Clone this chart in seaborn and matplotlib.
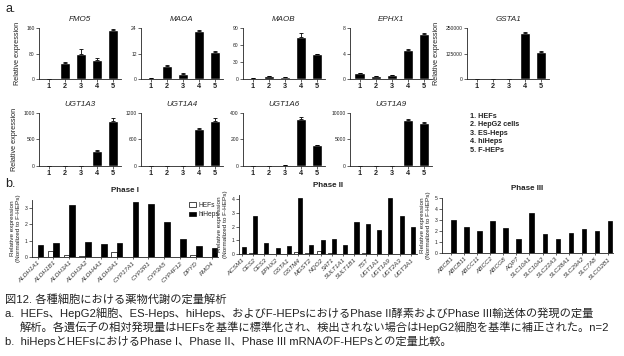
import matplotlib
matplotlib.use('Agg')
import matplotlib.pyplot as plt
import seaborn as sns
import pandas as pd

sns.set_theme(style='ticks')
plt.rcParams['font.family'] = ['Liberation Sans', 'Noto Sans CJK JP', 'DejaVu Sans']

# ---- panel a: relative expression, groups 1-5 ----
groups = ['1', '2', '3', '4', '5']
fmo5 = [0.5, 50, 80, 60, 153]
fmo5_err = [0, 2, 14, 6, 3]
maoa = [0.6, 6.2, 2.5, 22.6, 12.9]
maoa_err = [0, 0.2, 0.2, 0.3, 0.4]
maob = [1, 5.3, 3.5, 74.5, 44]
maob_err = [0, 0.4, 0.3, 6, 1]
ephx1 = [0.9, 0.45, 0.65, 4.6, 7.1]
ephx1_err = [0, 0, 0, 0.15, 0.1]
gsta1 = [0, 0, 0, 226000, 134000]
gsta1_err = [0, 0, 0, 2000, 4000]
ugt1a3 = [0, 0, 0, 280, 840]
ugt1a3_err = [0, 0, 0, 25, 60]
ugt1a4 = [0, 0, 0, 840, 1030]
ugt1a4_err = [0, 0, 0, 15, 50]
ugt1a6 = [0, 0, 5, 355, 155]
ugt1a6_err = [0, 0, 2, 15, 3]
ugt1a9 = [0, 0, 0, 8700, 8150]
ugt1a9_err = [0, 0, 0, 150, 150]
legend_lines = ['1. HEFs', '2. HepG2 cells', '3. ES-Heps', '4. hiHeps', '5. F-HEPs']

# ---- panel b: normalized to F-HEPs ----
phase1_genes = ['ALDH1A1', 'ALDH1B1', 'ALDH3A1', 'ALDH3A2', 'ALDH4A1', 'ALDH9A1',
                'CYP17A1', 'CYP2R1', 'CYP3A5', 'CYP4F12', 'DPYD', 'FMO4']
phase1_hefs = [0.02, 0.35, 0.1, 0.05, 0.03, 0.3, 0, 0, 0, 0, 0.15, 0.03]
phase1_hiheps = [0.72, 0.88, 3.2, 0.9, 0.82, 0.84, 3.37, 3.25, 2.15, 1.1, 0.7, 0.57]

phase2_genes = ['ACSM1', 'CES2', 'CES3', 'EPHX2', 'GSTA1', 'GSTM4', 'MGST2', 'NQO2',
                'SAT1', 'SULT1A1', 'SULT1B1', 'TST', 'UGT1A1', 'UGT1A9', 'UGT2A3', 'UGT3A1']
phase2_hefs = [0, 0.05, 0, 0, 0, 0.15, 0.05, 0.25, 0.1, 0, 0, 0.05, 0, 0, 0, 0]
phase2_hiheps = [0.53, 2.8, 0.8, 0.45, 0.6, 4.1, 0.63, 1.0, 1.1, 0.65, 2.35, 2.2,
                 1.75, 4.1, 2.8, 2.0]

phase3_genes = ['ABCB1', 'ABCB11', 'ABCC11', 'ABCC2', 'ABCG8', 'AQP7', 'SLC10A1',
                'SLC10A2', 'SLC22A3', 'SLC28A1', 'SLC29A2', 'SLC7A8', 'SLCO2B1']
phase3_hefs = [0, 0, 0, 0, 0, 0, 0, 0, 0.03, 0, 0, 0, 0]
phase3_hiheps = [3.0, 2.4, 2.0, 2.9, 2.3, 1.3, 3.6, 1.7, 1.3, 1.8, 2.2, 2.0, 2.9]

W, H = 624, 356
fig = plt.figure(figsize=(W / 100, H / 100), dpi=100)


def box(l, t, r, b):
    return [l / W, 1 - b / H, (r - l) / W, (b - t) / H]


def style(ax, fs=4):
    sns.despine(ax=ax)
    for s in ['left', 'bottom']:
        ax.spines[s].set_linewidth(0.6)
        ax.spines[s].set_color('#222222')
    ax.tick_params(axis='both', length=2, width=0.5, pad=1, labelsize=fs, colors='#222222')
    ax.set_xlabel('')
    ax.set_ylabel('')
    ax.set_facecolor('none')


def panel_a(x0, top, bottom, name, vals, errs, ticks, ylabel=False):
    ax = fig.add_axes(box(x0, top, x0 + 82, bottom))
    sns.barplot(x=groups, y=vals, color='black', width=0.65, ax=ax)
    ax.errorbar(x=range(5), y=vals, yerr=[[0] * 5, errs], fmt='none',
                ecolor='black', elinewidth=0.6, capsize=1.5, capthick=0.6)
    style(ax)
    ax.set_ylim(0, ticks[-1])
    ax.set_xlim(-0.6, 4.5)
    ax.set_yticks(ticks)
    ax.set_yticklabels([str(t) for t in ticks], fontsize=3.6)
    for lab in ax.get_xticklabels():
        lab.set_fontsize(5.2)
        lab.set_fontweight('bold')
    ax.set_title(name, fontsize=5.8, style='italic', pad=5, color='#222222')
    if ylabel:
        ax.set_ylabel('Relative expression', fontsize=5.2, labelpad=4, color='#222222')
    return ax


# row 1
panel_a(39, 28, 79, 'FMO5', fmo5, fmo5_err, [0, 80, 160], ylabel=True)
panel_a(141, 28, 79, 'MAOA', maoa, maoa_err, [0, 12, 24])
panel_a(243, 28, 79, 'MAOB', maob, maob_err, [0, 30, 60, 90])
panel_a(350, 28, 79, 'EPHX1', ephx1, ephx1_err, [0, 4, 8])
panel_a(467, 28, 79, 'GSTA1', gsta1, gsta1_err, [0, 125000, 250000], ylabel=True)
# row 2
panel_a(39, 113, 166, 'UGT1A3', ugt1a3, ugt1a3_err, [0, 500, 1000], ylabel=True)
panel_a(141, 113, 166, 'UGT1A4', ugt1a4, ugt1a4_err, [0, 600, 1200])
panel_a(243, 113, 166, 'UGT1A6', ugt1a6, ugt1a6_err, [0, 200, 400])
panel_a(350, 113, 166, 'UGT1A9', ugt1a9, ugt1a9_err, [0, 5000, 10000])

fig.text(470 / W, 1 - 113 / H, '\n'.join(legend_lines), fontsize=5.2,
         fontweight='bold', va='top', ha='left', linespacing=1.3, color='#222222')
fig.text(5 / W, 1 - 9 / H, 'a.', fontsize=9, va='center', ha='left', color='#222222')
fig.text(5 / W, 1 - 184 / H, 'b.', fontsize=9, va='center', ha='left', color='#222222')


def panel_b(l, t, r, b, title, genes, hefs, hiheps, ticks, ylim, xlim, legend=False):
    ax = fig.add_axes(box(l, t, r, b))
    df = pd.DataFrame({
        'gene': genes * 2,
        'value': hefs + hiheps,
        'cell': ['HEFs'] * len(genes) + ['hiHeps'] * len(genes),
    })
    sns.barplot(data=df, x='gene', y='value', hue='cell',
                palette={'HEFs': 'white', 'hiHeps': 'black'},
                edgecolor='black', linewidth=0.5, width=0.72, ax=ax, legend=legend)
    style(ax)
    ax.set_ylim(*ylim)
    ax.set_xlim(*xlim)
    ax.set_yticks(ticks)
    ax.set_yticklabels([str(t) for t in ticks], fontsize=3.6)
    ax.tick_params(axis='x', length=1.5)
    for lab in ax.get_xticklabels():
        lab.set_rotation(45)
        lab.set_ha('right')
        lab.set_rotation_mode('anchor')
        lab.set_fontsize(4.6)
        lab.set_style('italic')
        lab.set_color('#333333')
    ax.set_title(title, fontsize=5.8, fontweight='bold', pad=6, color='#222222')
    ax.set_ylabel('Relative expression\n(Normalized to F-HEPs)', fontsize=4.6,
                  labelpad=3, color='#222222', linespacing=1.1)
    if legend:
        ax.legend(loc='upper right', bbox_to_anchor=(1.02, 1.02), frameon=False,
                  fontsize=4.8, handlelength=1.0, handleheight=0.7,
                  handletextpad=0.4, labelspacing=0.4, borderaxespad=0)
    return ax


panel_b(32, 200, 218, 257, 'Phase I', phase1_genes, phase1_hefs, phase1_hiheps,
        [0, 1, 2, 3], (0, 3.5), (-0.35, 11.4), legend=True)
panel_b(239, 195, 417, 254, 'Phase II', phase2_genes, phase2_hefs, phase2_hiheps,
        [0, 1, 2, 3, 4], (0, 4.3), (-0.25, 15.55))
panel_b(442, 198, 613, 253, 'Phase III', phase3_genes, phase3_hefs, phase3_hiheps,
        [0, 1, 2, 3, 4, 5], (0, 5), (-0.7, 12.4))

caption = [
    (5, 299, '図12. 各種細胞における薬物代謝の定量解析'),
    (5, 313, 'a.  HEFs、HepG2細胞、ES-Heps、hiHeps、およびF-HEPsにおけるPhase II酵素およびPhase III輸送体の発現の定量'),
    (20, 327, '解析。各遺伝子の相対発現量はHEFsを基準に標準化され、検出されない場合はHepG2細胞を基準に補正された。n=2'),
    (5, 341, 'b.  hiHepsとHEFsにおけるPhase I、Phase II、Phase III mRNAのF-HEPsとの定量比較。'),
]
for x, y, s in caption:
    fig.text(x / W, 1 - y / H, s, fontsize=8.1, va='center', ha='left',
             color='#222222', family=['Liberation Sans', 'Noto Sans CJK JP'])

fig.savefig('out.png', dpi=100)
